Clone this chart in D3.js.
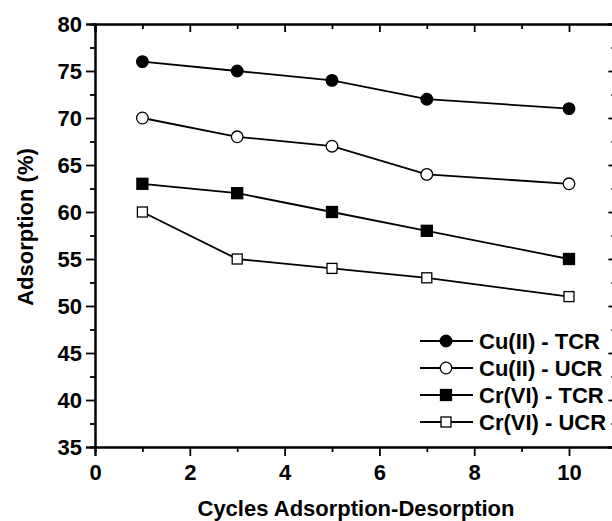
<!DOCTYPE html>
<html><head><meta charset="utf-8">
<script src="https://cdn.jsdelivr.net/npm/d3@7"></script>
<style>body{margin:0;background:#fff}svg{display:block}text{font-family:"Liberation Sans",Arial,sans-serif;font-weight:bold;fill:#000}</style>
</head><body><svg id="c" width="612" height="521"></svg>
<script>
const cycles = [1, 3, 5, 7, 10];
const seriesNames = ["Cu(II) - TCR", "Cu(II) - UCR", "Cr(VI) - TCR", "Cr(VI) - UCR"];
const cuTCR = [76, 75, 74, 72, 71];
const cuUCR = [70, 68, 67, 64, 63];
const crTCR = [63, 62, 60, 58, 55];
const crUCR = [60, 55, 54, 53, 51];
const markerShapes = ["circle", "circle", "square", "square"];
const markerFilled = [true, false, true, false];
const xTicks = [0, 2, 4, 6, 8, 10];
const yTicks = [35, 40, 45, 50, 55, 60, 65, 70, 75, 80];
const xLabel = "Cycles Adsorption-Desorption";
const yLabel = "Adsorption (%)";

const series = [cuTCR, cuUCR, crTCR, crUCR].map((v, i) => ({
  name: seriesNames[i], shape: markerShapes[i], filled: markerFilled[i],
  pts: cycles.map((c, j) => ({x: c, y: v[j]}))
}));

const svg = d3.select("#c");
const L = 95, T = 24, B = 447;
const x = d3.scaleLinear().domain([0, 11]).range([L, L + 11 * 47.4]);
const y = d3.scaleLinear().domain([35, 80]).range([B, T]);
const R = x(11);
const FS = "22px";
const FF = "'Liberation Sans', Arial, sans-serif";

const minorX = d3.range(0, 12, 1).filter(v => v % 2 !== 0);
const minorY = d3.range(37.5, 80, 5);

// axes
svg.append("g").attr("transform", `translate(0,${B})`)
  .call(d3.axisBottom(x).tickValues(xTicks).tickSize(9).tickPadding(8).tickFormat(d3.format("d")));
svg.append("g").attr("transform", `translate(0,${B})`)
  .call(d3.axisBottom(x).tickValues(minorX).tickSize(5).tickFormat(""));
svg.append("g").attr("transform", `translate(${L},0)`)
  .call(d3.axisLeft(y).tickValues(yTicks).tickSize(9).tickPadding(4).tickFormat(d3.format("d")));
svg.append("g").attr("transform", `translate(${L},0)`)
  .call(d3.axisLeft(y).tickValues(minorY).tickSize(5).tickFormat(""));
svg.append("g").attr("transform", `translate(0,${T})`)
  .call(d3.axisTop(x).tickValues(xTicks).tickSize(-8).tickFormat(""));
svg.append("g").attr("transform", `translate(0,${T})`)
  .call(d3.axisTop(x).tickValues(minorX).tickSize(-5).tickFormat(""));
svg.append("g").attr("transform", `translate(${R},0)`)
  .call(d3.axisRight(y).tickValues(yTicks).tickSize(-8).tickFormat(""));
svg.append("g").attr("transform", `translate(${R},0)`)
  .call(d3.axisRight(y).tickValues(minorY).tickSize(-5).tickFormat(""));

svg.selectAll("g").attr("font-family", FF).attr("font-size", FS).attr("font-weight", "bold");
svg.selectAll(".domain").attr("stroke", "#000").attr("stroke-width", 2);
svg.selectAll(".tick line").attr("stroke", "#000").attr("stroke-width", 1.8);
svg.selectAll(".tick text").attr("font-family", FF).attr("font-size", FS).attr("font-weight", "bold")
  .attr("fill", "#000").style("font-weight", "bold").style("font-size", FS);

// titles
svg.append("text").attr("x", 356).attr("y", 516).attr("text-anchor", "middle")
  .style("font-size", FS).text(xLabel);
svg.append("text").attr("transform", "translate(33,227) rotate(-90)").attr("text-anchor", "middle")
  .style("font-size", FS).text(yLabel);

// series
const line = d3.line().x(d => x(d.x)).y(d => y(d.y));
function marker(g, shape, filled, cx, cy) {
  if (shape === "circle") {
    g.append("circle").attr("cx", cx).attr("cy", cy).attr("r", 5.8)
      .attr("fill", filled ? "#000" : "#fff").attr("stroke", "#000").attr("stroke-width", 1.3);
  } else {
    const s = filled ? 11 : 10;
    g.append("rect").attr("x", cx - s / 2).attr("y", cy - s / 2).attr("width", s).attr("height", s)
      .attr("fill", filled ? "#000" : "#fff").attr("stroke", "#000").attr("stroke-width", 1.3);
  }
}
series.forEach(s => {
  const g = svg.append("g");
  g.append("path").attr("d", line(s.pts)).attr("fill", "none").attr("stroke", "#000").attr("stroke-width", 1.8);
  s.pts.forEach(p => marker(g, s.shape, s.filled, x(p.x), y(p.y)));
});

// legend
const legY = [341, 368, 395, 422];
series.forEach((s, i) => {
  const g = svg.append("g");
  g.append("line").attr("x1", 420).attr("x2", 473).attr("y1", legY[i]).attr("y2", legY[i])
    .attr("stroke", "#000").attr("stroke-width", 1.8);
  marker(g, s.shape, s.filled, 446, legY[i]);
  g.append("text").attr("x", 479).attr("y", legY[i] + 8).style("font-size", FS).text(s.name);
});
</script></body></html>
